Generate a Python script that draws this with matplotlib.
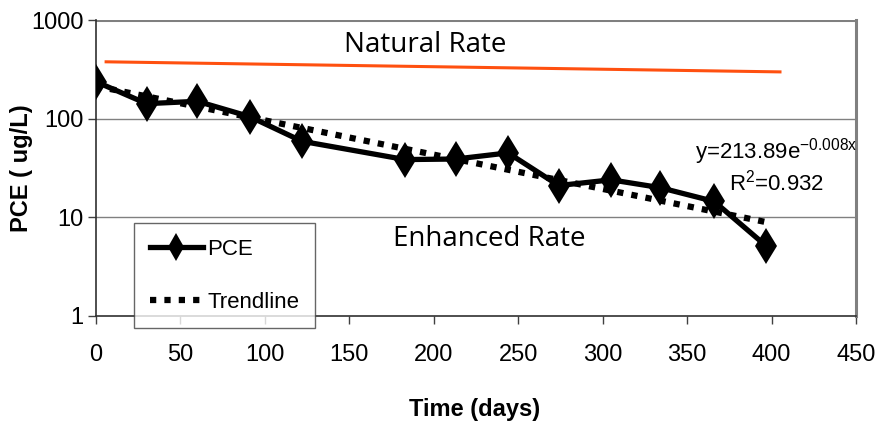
import numpy as np
import matplotlib.pyplot as plt

# PCE concentration over time (days, ug/L)
days = [0, 30, 60, 91, 122, 183, 213, 244, 274, 305, 334, 366, 397]
pce = [237, 142, 150, 105, 59, 38.5, 39, 45, 21, 24, 20, 14.5, 5.1]

# exponential trendline y = A * exp(k x)
TREND_A = 213.89
TREND_K = -0.008
TREND_R2 = 0.932
trend_days = [0, 400]

# natural attenuation reference line
natural_days = [6, 405]
natural_pce = [377, 298]

x_ticks = [0, 50, 100, 150, 200, 250, 300, 350, 400, 450]
y_ticks = [1, 10, 100, 1000]

plt.rcParams["font.family"] = ["Liberation Sans", "DejaVu Sans"]
plt.rcParams["mathtext.fontset"] = "custom"
plt.rcParams["mathtext.rm"] = "Liberation Sans"
plt.rcParams["mathtext.it"] = "Liberation Sans"

fig = plt.figure(figsize=(8.83, 4.37), dpi=100)
ax = fig.add_axes([0.1087, 0.2769, 0.8607, 0.6773])

ax.set_yscale("log")
ax.set_xlim(0, 450)
ax.set_ylim(1, 1000)

# horizontal grid at decades
for yv in y_ticks[1:]:
    ax.axhline(yv, color="#808080", linewidth=1.0 if yv < 1000 else 2.2, zorder=1)

tx = np.linspace(trend_days[0], trend_days[1], 200)
ax.plot(tx, TREND_A * np.exp(TREND_K * tx), color="black", linewidth=4.5,
        linestyle=(0, (1.0, 1.3)), dash_capstyle="butt", zorder=3, label="Trendline")

ax.plot(days, pce, color="black", linewidth=3.8, marker="d", markersize=18,
        markeredgewidth=0, zorder=4, label="PCE")

ax.plot(natural_days, natural_pce, color="#ff5010", linewidth=2.2, zorder=2)

ax.text(195, 560, "Natural Rate", family=["Open Sans", "DejaVu Sans"],
        fontsize=20, ha="center", va="center")
ax.text(233, 6.0, "Enhanced Rate", family=["Open Sans", "DejaVu Sans"],
        fontsize=20, ha="center", va="center")

ax.text(403, 46, "y=%.2fe$^{%.3fx}$" % (TREND_A, TREND_K), fontsize=16,
        ha="center", va="center")
ax.text(403, 22.6, "R$^2$=%.3f" % TREND_R2, fontsize=16, ha="center", va="center")

ax.set_xticks(x_ticks)
ax.set_xticklabels([str(v) for v in x_ticks], fontsize=17)
ax.set_yticks(y_ticks)
ax.set_yticklabels([str(v) for v in y_ticks], fontsize=17)
ax.minorticks_off()
ax.yaxis.set_minor_locator(plt.NullLocator())
ax.tick_params(axis="x", direction="out", length=6, width=1, pad=14, color="#404040")
ax.tick_params(axis="y", direction="out", length=6, width=1, pad=3, color="#404040")

for side in ("left", "bottom"):
    ax.spines[side].set_color("#303030")
    ax.spines[side].set_linewidth(1.2)
ax.spines["right"].set_color("#808080")
ax.spines["right"].set_linewidth(2.2)
ax.spines["top"].set_visible(False)

ax.set_xlabel("Time (days)", fontsize=17, fontweight="bold")
ax.xaxis.set_label_coords((475 - 96) / 760, -(398 - 316) / 296)
ax.set_ylabel("PCE ( ug/L)", fontsize=17, fontweight="bold")
ax.yaxis.set_label_coords(-(96 - 33) / 760, (316 - 168) / 296)

handles, labels = ax.get_legend_handles_labels()
leg = fig.legend(handles[::-1], labels[::-1], loc="upper left",
                 bbox_to_anchor=(134 / 883, 1 - 223 / 437), fontsize=16,
                 frameon=True, fancybox=False, edgecolor="#404040",
                 handlelength=2.4, handletextpad=0.2, borderpad=0.7,
                 labelspacing=1.45, markerscale=0.8, borderaxespad=0)
leg.get_frame().set_linewidth(1.0)

fig.savefig("out.png", dpi=100)
